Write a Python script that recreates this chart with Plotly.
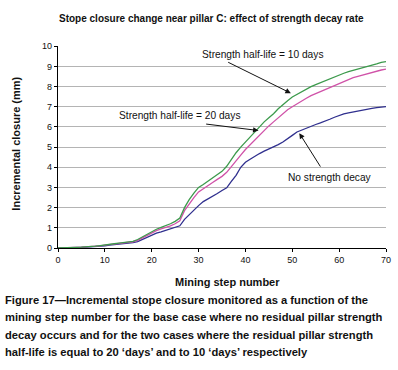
import plotly.graph_objects as go

steps = list(range(0, 71))

half_life_10 = [0.0, 0.0, 0.01, 0.02, 0.03, 0.04, 0.05, 0.07, 0.09, 0.12,
                0.16, 0.19, 0.21, 0.24, 0.27, 0.29, 0.33, 0.42, 0.55, 0.68,
                0.82, 0.93, 1.02, 1.10, 1.20, 1.32, 1.48, 2.00, 2.40, 2.72,
                3.00, 3.15, 3.32, 3.48, 3.62, 3.80, 4.05, 4.40, 4.72, 5.00,
                5.25, 5.50, 5.78, 6.05, 6.25, 6.45, 6.65, 6.90, 7.12, 7.30,
                7.48, 7.62, 7.75, 7.88, 8.00, 8.10, 8.20, 8.30, 8.40, 8.50,
                8.58, 8.66, 8.74, 8.80, 8.86, 8.93, 9.00, 9.06, 9.12, 9.20,
                9.24]

half_life_20 = [0.0, 0.0, 0.01, 0.02, 0.03, 0.04, 0.05, 0.06, 0.08, 0.11,
                0.14, 0.17, 0.19, 0.22, 0.25, 0.27, 0.31, 0.38, 0.50, 0.62,
                0.76, 0.86, 0.95, 1.02, 1.10, 1.20, 1.35, 1.85, 2.20, 2.50,
                2.78, 2.95, 3.10, 3.25, 3.40, 3.55, 3.75, 4.05, 4.35, 4.60,
                4.88, 5.12, 5.35, 5.58, 5.85, 6.05, 6.25, 6.45, 6.65, 6.85,
                7.00, 7.15, 7.28, 7.42, 7.55, 7.65, 7.75, 7.85, 7.95, 8.07,
                8.17, 8.27, 8.36, 8.44, 8.50, 8.57, 8.63, 8.70, 8.76, 8.82,
                8.86]

no_decay = [0.0, 0.0, 0.0, 0.01, 0.02, 0.03, 0.04, 0.05, 0.07, 0.09,
            0.11, 0.14, 0.16, 0.19, 0.21, 0.23, 0.27, 0.32, 0.42, 0.54,
            0.66, 0.74, 0.80, 0.87, 0.94, 1.02, 1.10, 1.42, 1.65, 1.90,
            2.10, 2.30, 2.42, 2.55, 2.70, 2.85, 2.98, 3.30, 3.60, 4.00,
            4.25, 4.40, 4.55, 4.68, 4.80, 4.90, 5.02, 5.12, 5.25, 5.40,
            5.58, 5.75, 5.85, 5.95, 6.03, 6.12, 6.20, 6.28, 6.38, 6.48,
            6.58, 6.65, 6.70, 6.75, 6.80, 6.84, 6.88, 6.92, 6.96, 6.99,
            7.01]

x_ticks = [0, 10, 20, 30, 40, 50, 60, 70]
y_ticks = [0, 1, 2, 3, 4, 5, 6, 7, 8, 9, 10]

title_text = "Stope closure change near pillar C: effect of strength decay rate"
x_title = "Mining step number"
y_title = "Incremental closure (mm)"
caption_lines = [
    "Figure 17\u2014Incremental stope closure monitored as a function of the",
    "mining step number for the base case where no residual pillar strength",
    "decay occurs and for the two cases where the residual pillar strength",
    "half-life is equal to 20 \u2018days\u2019 and to 10 \u2018days\u2019 respectively",
]

W, H = 398, 370
L, R, T, B = 58, 7, 46, 122
PW, PH = W - L - R, H - T - B
FONT = "Liberation Sans, Arial, sans-serif"


def px(xp):
    return (xp - L) / PW


def py(yp):
    return (T + PH - yp) / PH


fig = go.Figure()
fig.add_trace(go.Scatter(x=steps, y=no_decay, mode="lines",
                         line=dict(color="#2f2f8e", width=1.3), name="No strength decay"))
fig.add_trace(go.Scatter(x=steps, y=half_life_20, mode="lines",
                         line=dict(color="#d052a8", width=1.3), name="Strength half-life = 20 days"))
fig.add_trace(go.Scatter(x=steps, y=half_life_10, mode="lines",
                         line=dict(color="#3c9a4c", width=1.3), name="Strength half-life = 10 days"))

annotations = []
for (hx, hy, tx, ty) in [(49.7, 7.67, 36.0, 9.24), (42.8, 5.82, 31.3, 6.15), (51.5, 5.69, 56.2, 3.96)]:
    annotations.append(dict(x=hx, y=hy, ax=tx, ay=ty, xref="x", yref="y", axref="x", ayref="y",
                            text="", showarrow=True, arrowhead=2, arrowsize=1.1, arrowwidth=1,
                            arrowcolor="#111111"))
for (lx, ly, txt) in [(43.7, 9.57, "Strength half-life = 10 days"),
                      (25.9, 6.55, "Strength half-life = 20 days"),
                      (58.1, 3.5, "No strength decay")]:
    annotations.append(dict(x=lx, y=ly, xref="x", yref="y", text=txt, showarrow=False,
                            font=dict(family=FONT, size=10.2, color="#111111"),
                            xanchor="center", yanchor="middle"))
annotations.append(dict(x=px(214), y=py(18), xref="paper", yref="paper", text="<b>" + title_text + "</b>",
                        showarrow=False, font=dict(family=FONT, size=10, color="#111111"),
                        xanchor="center", yanchor="middle"))
for i, line in enumerate(caption_lines):
    annotations.append(dict(x=px(2), y=py(300 + 17.3 * i), xref="paper", yref="paper",
                            text="<b>" + line + "</b>", showarrow=False,
                            font=dict(family=FONT, size=11.2, color="#111111"),
                            xanchor="left", yanchor="middle"))
annotations.append(dict(x=px(230), y=py(282), xref="paper", yref="paper", text="<b>" + x_title + "</b>",
                        showarrow=False, font=dict(family=FONT, size=11, color="#111111"),
                        xanchor="center", yanchor="middle"))
annotations.append(dict(x=px(15), y=py(144), xref="paper", yref="paper", text="<b>" + y_title + "</b>",
                        showarrow=False, textangle=-90, font=dict(family=FONT, size=11, color="#111111"),
                        xanchor="center", yanchor="middle"))

fig.update_layout(
    width=W, height=H,
    margin=dict(l=L, r=R, t=T, b=B),
    paper_bgcolor="white", plot_bgcolor="white",
    showlegend=False,
    annotations=annotations,
    font=dict(family=FONT, size=9, color="#111111"),
)
fig.update_xaxes(range=[0, 70], tickvals=x_ticks, ticktext=[str(v) for v in x_ticks],
                 showgrid=False, zeroline=False, showline=True, linecolor="black", linewidth=1.2,
                 ticks="outside", ticklen=3, tickcolor="black", tickfont=dict(size=9),
                 ticklabeloverflow="allow")
fig.update_yaxes(range=[0, 10.01], tickvals=y_ticks, ticktext=[str(v) for v in y_ticks],
                 showgrid=True, gridcolor="#b4b4b4", gridwidth=1, zeroline=False,
                 showline=True, linecolor="black", linewidth=1.2,
                 ticks="outside", ticklen=3, tickcolor="black", tickfont=dict(size=9),
                 ticklabeloverflow="allow")

fig.write_html("out.html", config={"displayModeBar": False},
               post_script="document.body.style.margin='0';document.body.style.overflow='hidden';")
